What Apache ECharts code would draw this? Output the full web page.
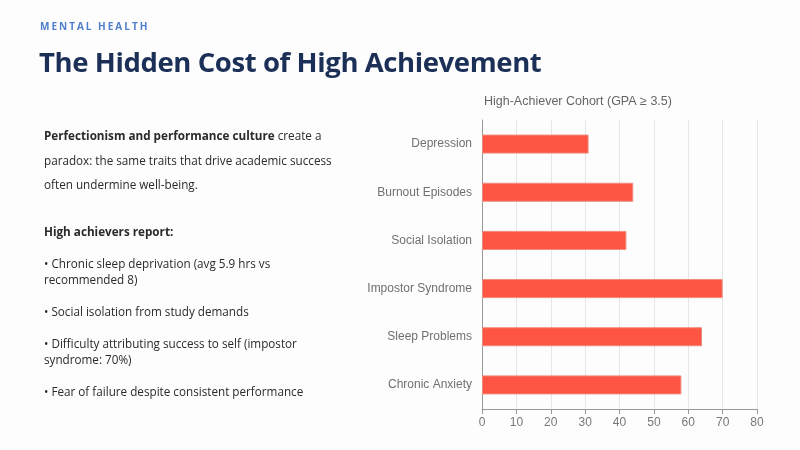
<!DOCTYPE html>
<html>
<head>
<meta charset="utf-8"/>
<title>The Hidden Cost of High Achievement</title>
<script src="https://cdn.jsdelivr.net/npm/echarts@6/dist/echarts.min.js"></script>
<style>
  html, body { margin: 0; padding: 0; background: #fdfdfe; }
  #page { position: relative; width: 800px; height: 450px; overflow: hidden; }
  #chart { position: absolute; left: 0; top: 0; width: 800px; height: 450px; }
  .kicker { position: absolute; left: 40px; top: 19px; font: bold 10px "Open Sans", sans-serif; letter-spacing: 2px; color: #4f7fcc; }
  .headline { position: absolute; left: 39px; top: 43px; font: bold 27.5px "Open Sans", sans-serif; color: #1b2f57; letter-spacing: -0.4px; }
  .body { position: absolute; left: 44px; top: 123px; width: 300px; font: 11.7px "Open Sans", sans-serif; color: #2a2a2a; }
  .body p { margin: 0; }
  .lead { line-height: 24.5px; }
  .sub { margin-top: 26px !important; font-weight: bold; }
  .bullet { line-height: 16px; margin-top: 16px !important; }
</style>
</head>
<body>
<div id="page">
  <div id="chart"></div>
  <div class="kicker">MENTAL HEALTH</div>
  <div class="headline">The Hidden Cost of High Achievement</div>
  <div class="body">
    <p class="lead"><b>Perfectionism and performance culture</b> create a paradox: the same traits that drive academic success often undermine well-being.</p>
    <p class="sub">High achievers report:</p>
    <p class="bullet">• Chronic sleep deprivation (avg 5.9 hrs vs recommended 8)</p>
    <p class="bullet">• Social isolation from study demands</p>
    <p class="bullet">• Difficulty attributing success to self (impostor syndrome: 70%)</p>
    <p class="bullet">• Fear of failure despite consistent performance</p>
  </div>
</div>
<script type="text/javascript">
    // categories listed bottom to top, as the category axis draws them
    var categories = ['Chronic Anxiety', 'Sleep Problems', 'Impostor Syndrome', 'Social Isolation', 'Burnout Episodes', 'Depression'];
    var percentages = [58, 64, 70, 42, 44, 31];
    var xTicks = { min: 0, max: 80, interval: 10 };

    var chart = echarts.init(document.getElementById('chart'));

    var option = {
        animation: false,
        title: {
            text: 'High-Achiever Cohort (GPA ≥ 3.5)',
            left: 479,
            top: 90,
            textStyle: {
                color: '#666',
                fontSize: 12.5,
                fontWeight: 'normal',
                fontFamily: 'Liberation Sans, Arial, sans-serif'
            }
        },
        grid: {
            left: 482,
            right: 43,
            top: 120,
            bottom: 41
        },
        xAxis: {
            type: 'value',
            min: xTicks.min,
            max: xTicks.max,
            interval: xTicks.interval,
            axisLine: { show: true, lineStyle: { color: '#999' } },
            axisTick: { show: true, lineStyle: { color: '#999' } },
            axisLabel: { color: '#777', fontSize: 12, fontFamily: 'Liberation Sans, Arial, sans-serif' },
            splitLine: { lineStyle: { color: '#e6e6e6' } }
        },
        yAxis: {
            type: 'category',
            data: categories,
            axisLine: { lineStyle: { color: '#999' } },
            axisTick: { lineStyle: { color: '#999' } },
            axisLabel: { color: '#707070', fontSize: 12, margin: 10, fontFamily: 'Liberation Sans, Arial, sans-serif' }
        },
        series: [
            {
                name: 'High achievers',
                type: 'bar',
                data: percentages,
                barWidth: 19,
                itemStyle: {
                    color: '#fd5443',
                    borderColor: '#f08a7c',
                    borderWidth: 1
                }
            }
        ]
    };

    chart.setOption(option);
</script>
</body>
</html>
